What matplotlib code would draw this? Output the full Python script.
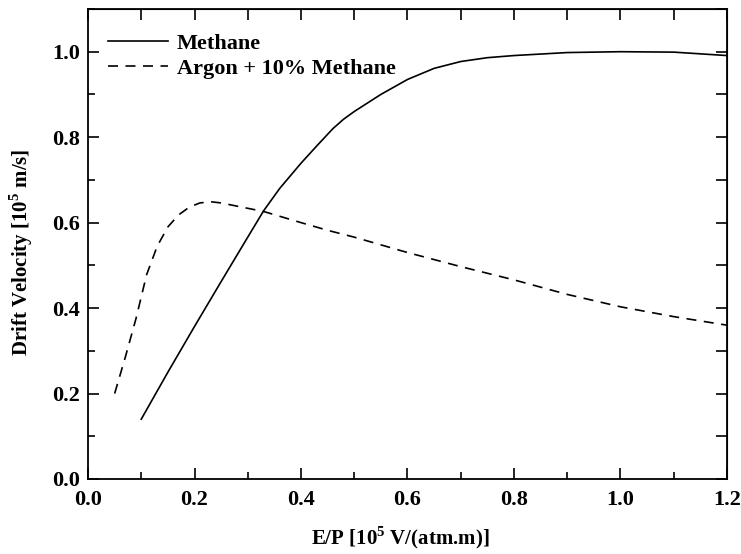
import numpy as np
from matplotlib import pyplot as plt
from matplotlib.ticker import MultipleLocator

plt.rcParams['font.family'] = 'Liberation Serif'
plt.rcParams['font.weight'] = 'bold'
plt.rcParams['mathtext.fontset'] = 'custom'
plt.rcParams['mathtext.rm'] = 'Liberation Serif:bold'
plt.rcParams['mathtext.bf'] = 'Liberation Serif:bold'

# drift velocity curves
methane_x = [0.10, 0.15, 0.20, 0.25, 0.30, 0.33, 0.36, 0.40, 0.43, 0.46,
             0.48, 0.50, 0.55, 0.60, 0.65, 0.70, 0.75, 0.80, 0.90, 1.00,
             1.10, 1.20]
methane_y = [0.14, 0.25, 0.357, 0.462, 0.566, 0.628, 0.68, 0.739, 0.78, 0.82,
             0.842, 0.86, 0.90, 0.935, 0.961, 0.977, 0.986, 0.991, 0.998, 1.0,
             0.999, 0.991]

argon_x = [0.05, 0.07, 0.09, 0.11, 0.13, 0.15, 0.17, 0.19, 0.21, 0.23,
           0.25, 0.29, 0.33, 0.40, 0.45, 0.50, 0.60, 0.70, 0.80, 0.90,
           1.00, 1.10, 1.20]
argon_y = [0.20, 0.285, 0.375, 0.478, 0.545, 0.59, 0.618, 0.636, 0.646, 0.649,
           0.646, 0.636, 0.626, 0.60, 0.582, 0.566, 0.53, 0.497, 0.466, 0.432,
           0.403, 0.38, 0.36]

fig = plt.figure(figsize=(7.41, 5.54), dpi=100)
ax = fig.add_axes([0.1188, 0.1354, 0.981 - 0.1188, 0.9838 - 0.1354])

ax.plot(methane_x, methane_y, color='k', linewidth=1.2, label='Methane')
ax.plot(argon_x, argon_y, color='k', linewidth=1.2, dashes=(6, 4.5),
        label='Argon + 10% Methane')

ax.set_xlim(0, 1.2)
ax.set_ylim(0, 1.1)
ax.xaxis.set_major_locator(MultipleLocator(0.2))
ax.xaxis.set_minor_locator(MultipleLocator(0.1))
ax.yaxis.set_major_locator(MultipleLocator(0.2))
ax.yaxis.set_minor_locator(MultipleLocator(0.1))
ax.tick_params(which='major', direction='in', length=8, width=1.2, labelsize=16, pad=6)
ax.tick_params(axis='x', which='major', pad=8)
ax.tick_params(which='minor', direction='in', length=5, width=1.2)
for s in ax.spines.values():
    s.set_linewidth(1.3)

# top and right ticks, all the same length
top = ax.secondary_xaxis('top')
top.set_xticks(np.arange(0, 1.21, 0.1))
top.set_xticklabels([])
top.tick_params(direction='in', length=8, width=1.2)
right = ax.secondary_yaxis('right')
right.set_yticks(np.arange(0, 1.11, 0.1))
right.set_yticklabels([])
right.tick_params(direction='in', length=8, width=1.2)

ax.set_xlabel('E/P [10$^5$ V/(atm.m)]', fontsize=15, fontweight='bold', va='center')
ax.xaxis.set_label_coords(0.488, -0.125)
ax.set_ylabel('Drift Velocity [10$^5$ m/s]', fontsize=15, fontweight='bold', va='center')
ax.yaxis.set_label_coords(-0.105, 0.483)

ax.legend(loc='upper left', frameon=False, fontsize=16, handlelength=2.7,
          handletextpad=0.4, labelspacing=0.2, borderaxespad=0.5,
          bbox_to_anchor=(0.0, 0.99))

plt.savefig('out.png', dpi=100)
